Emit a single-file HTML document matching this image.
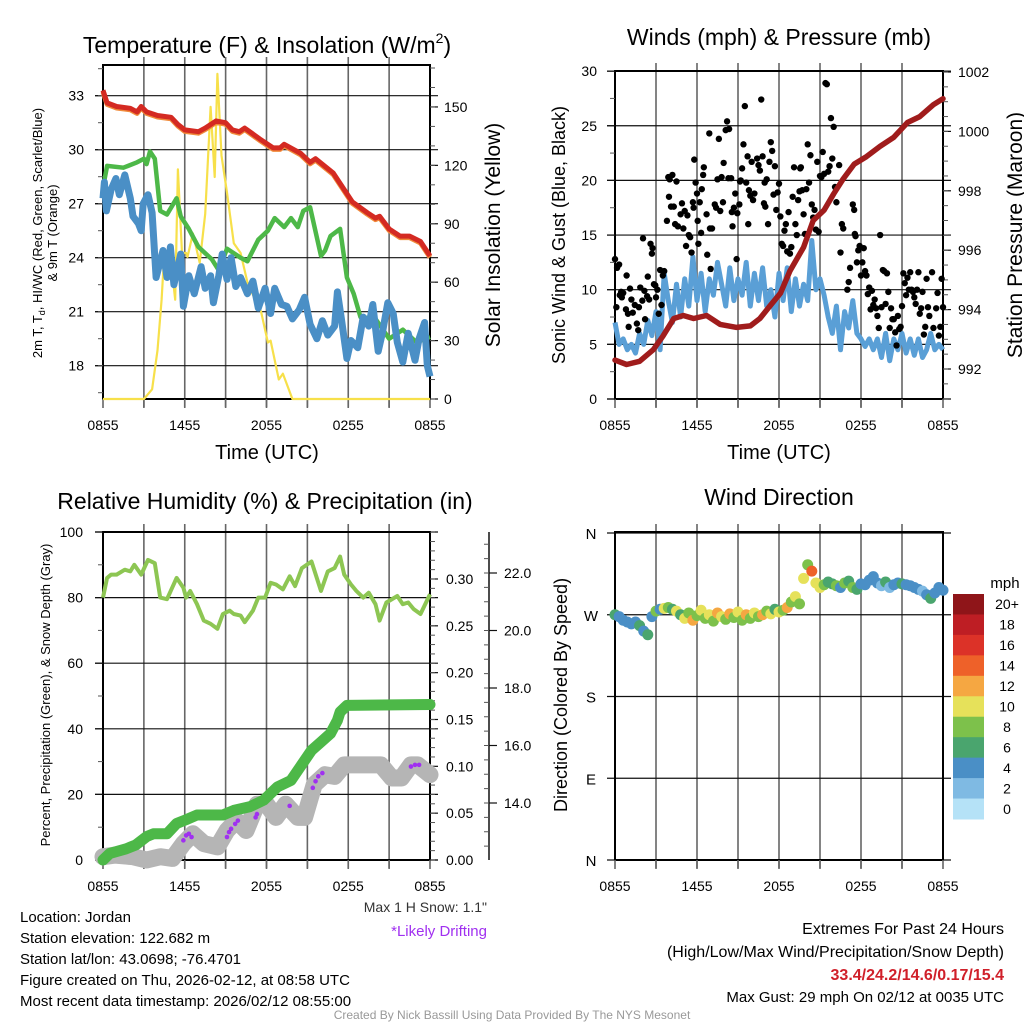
<!DOCTYPE html>
<html><head><meta charset="utf-8"><style>
html,body{margin:0;padding:0;background:#fff;}
svg{display:block;font-family:"Liberation Sans",Arial,sans-serif;}
</style></head><body>
<svg id="chart" width="1024" height="1024" viewBox="0 0 1024 1024">
<rect x="0" y="0" width="1024" height="1024" fill="#fff"/>
<text x="267" y="53" font-size="23" text-anchor="middle">Temperature (F) &amp; Insolation (W/m<tspan font-size="14" dy="-10">2</tspan><tspan dy="10">)</tspan></text>
<text x="779" y="45" font-size="23" text-anchor="middle">Winds (mph) &amp; Pressure (mb)</text>
<text x="265" y="509" font-size="23" text-anchor="middle">Relative Humidity (%) &amp; Precipitation (in)</text>
<text x="779" y="505" font-size="23" text-anchor="middle">Wind Direction</text>

<text transform="translate(42,233) rotate(-90)" font-size="13" text-anchor="middle">2m T, T<tspan font-size="9" dy="3">d</tspan><tspan dy="-3">, HI/WC (Red, Green, Scarlet/Blue)</tspan></text>
<text transform="translate(57,233) rotate(-90)" font-size="13" text-anchor="middle">&amp; 9m T (Orange)</text>
<text transform="translate(500,235) rotate(-90)" font-size="21" text-anchor="middle">Solar Insolation (Yellow)</text>
<text transform="translate(565,235) rotate(-90)" font-size="18" text-anchor="middle">Sonic Wind &amp; Gust (Blue, Black)</text>
<text transform="translate(1022,235) rotate(-90)" font-size="21" text-anchor="middle">Station Pressure (Maroon)</text>
<text transform="translate(50,695) rotate(-90)" font-size="13" text-anchor="middle">Percent, Precipitation (Green), &amp; Snow Depth (Gray)</text>
<text transform="translate(567,695) rotate(-90)" font-size="18" text-anchor="middle">Direction (Colored By Speed)</text>

<text x="267" y="459" font-size="20" text-anchor="middle">Time (UTC)</text>
<text x="779" y="459" font-size="20" text-anchor="middle">Time (UTC)</text>

<text x="20" y="922" font-size="15">Location: Jordan</text>
<text x="20" y="943" font-size="15">Station elevation: 122.682 m</text>
<text x="20" y="964" font-size="15">Station lat/lon: 43.0698; -76.4701</text>
<text x="20" y="985" font-size="15">Figure created on Thu, 2026-02-12, at 08:58 UTC</text>
<text x="20" y="1006" font-size="15">Most recent data timestamp: 2026/02/12 08:55:00</text>
<text x="487" y="912" font-size="14" text-anchor="end" fill="#333">Max 1 H Snow: 1.1"</text>
<text x="487" y="936" font-size="15" text-anchor="end" fill="#a030f0">*Likely Drifting</text>
<text x="1004" y="934" font-size="16" text-anchor="end">Extremes For Past 24 Hours</text>
<text x="1004" y="957" font-size="16" text-anchor="end">(High/Low/Max Wind/Precipitation/Snow Depth)</text>
<text x="1004" y="980" font-size="16" text-anchor="end" font-weight="bold" fill="#d0202a">33.4/24.2/14.6/0.17/15.4</text>
<text x="1004" y="1002" font-size="15" text-anchor="end">Max Gust: 29 mph On 02/12 at 0035 UTC</text>
<text x="512" y="1019" font-size="12" text-anchor="middle" fill="#999">Created By Nick Bassill Using Data Provided By The NYS Mesonet</text>
<text x="1005" y="588" font-size="15" text-anchor="middle">mph</text>
</svg>
<script>
// ---------- data ----------
const timeTickLabels = ["0855","1455","2055","0255","0855"];
const tempTicks = [18,21,24,27,30,33];
const insolTicks = [0,30,60,90,120,150];
const windTicks = [0,5,10,15,20,25,30];
const pressureTicks = [992,994,996,998,1000,1002];
const rhTicks = [0,20,40,60,80,100];
const precipTicks = [0.00,0.05,0.10,0.15,0.20,0.25,0.30];
const snowTicks = [14.0,16.0,18.0,20.0,22.0];
const dirTicks = ["N","E","S","W","N"];
const dirTickValues = [0,90,180,270,360];
const speedBinLabels = ["0","2","4","6","8","10","12","14","16","18","20+"];
const speedBinColors = ["#b5e2f7","#7fbae3","#4a8fc6","#4aa56e","#7dc14b","#e6e15a","#f5a742","#ee6129","#dc3228","#be1e24","#8f1519"];

const airTemp = [[0,33.3],[0.3,32.6],[1,32.4],[2,32.3],[2.5,32.1],[2.8,32.4],[3.2,32.1],[4,31.9],[5,31.8],[5.5,31.4],[6,31.1],[7,31.0],[7.5,31.2],[8.3,31.6],[9,31.5],[9.5,31.1],[10,31.0],[10.4,31.2],[11.5,30.6],[12.5,30.1],[13,30.1],[13.3,30.3],[14.5,29.8],[15.2,29.3],[15.6,29.5],[16.9,28.7],[17.6,27.9],[18.3,27.1],[19.4,26.5],[20,26.2],[20.3,26.3],[21,25.6],[21.8,25.2],[22.5,25.2],[23.3,24.9],[24,24.1]];
const heatIndex = [[0,27.9],[0.3,29.1],[1.5,29.0],[2.5,29.3],[3,29.5],[3.2,29.2],[3.45,29.9],[3.8,29.5],[4.2,26.6],[4.7,26.4],[5.4,27.3],[5.7,26.3],[6.3,25.6],[7.0,24.6],[8.0,23.9],[8.5,23.3],[9.1,24.5],[10.1,24.0],[10.6,23.8],[11.4,25.0],[12.1,25.5],[12.6,26.2],[13.3,25.7],[13.8,26.2],[14.3,25.7],[14.7,26.6],[15.2,26.8],[16.0,24.1],[16.3,24.4],[16.7,25.2],[17.4,25.6],[17.9,22.9],[18.4,22.0],[18.9,20.7],[20,20.6],[21,19.5],[22,20.0],[23,19.3],[24,19.6]];
const dewPoint = [[0,27.3],[0.1,28.2],[0.25,26.6],[0.6,27.8],[0.95,28.4],[1.2,27.5],[1.6,28.6],[2.0,27.3],[2.2,26.3],[2.6,25.9],[2.8,25.5],[2.95,27.0],[3.3,27.5],[3.6,26.5],[3.9,22.9],[4.4,24.4],[4.7,22.9],[4.95,24.6],[5.2,22.5],[5.7,24.2],[5.9,21.3],[6.3,23.0],[6.7,22.0],[7.2,23.5],[7.5,22.3],[7.9,23.0],[8.1,21.5],[8.5,23.0],[8.75,24.2],[9.1,22.8],[9.4,24.0],[9.75,22.4],[10.1,22.9],[10.6,22.0],[11,22.7],[11.4,21.2],[11.9,22.3],[12.3,20.9],[12.6,22.3],[13.1,21.4],[13.5,21.3],[13.9,20.6],[14.4,21.1],[14.8,21.8],[15.2,20.3],[15.7,19.5],[16.1,20.5],[16.5,19.7],[17,20.2],[17.2,22.1],[17.5,20.6],[17.9,18.4],[18.2,19.4],[18.7,19.0],[19.1,20.7],[19.5,20.2],[19.8,21.4],[20.2,18.8],[20.5,19.8],[20.9,21.5],[21.3,20.9],[21.6,19.3],[22,18.2],[22.4,19.8],[22.9,18.3],[23.2,19.5],[23.6,20.4],[23.8,18.0],[24,17.4]];
const insolation = [[0,0],[3.0,0],[3.6,5],[4.0,25],[4.3,51],[4.5,75],[4.8,65],[5.0,70],[5.3,51],[5.5,118],[5.8,75],[6.1,75],[6.2,73],[6.6,85],[7.1,70],[7.5,95],[7.9,150],[8.2,114],[8.4,167],[8.7,125],[9.1,106],[9.6,80],[10.1,75],[10.6,60],[11.1,52],[11.6,45],[12.1,29],[12.3,30],[12.9,10],[13.2,13],[13.9,0],[24,0]];

const windSpeed = [7,5,5.5,4.5,5,4.2,6,5,7.2,5.8,8,4.5,11.5,9,7,10.5,7.5,11,8.5,13,9,11.5,8,11,9.5,12.5,10.5,8.5,12,9,11,9.5,12.5,8.5,11.5,9,12,8.5,10,7.5,11.5,9,12,8,11,8.5,10.5,9,14.5,10,11,9.5,7.5,6,8.5,4.5,8,6.5,9,6,5.5,4.8,5.5,4.5,5.5,3.8,6,3.5,5.5,4.5,6,4.2,5.5,4,5.5,3.8,4.5,6,4.5,5,4.5];
const pressure = [[0,992.3],[0.85,992.15],[1.8,992.26],[2.8,992.65],[3.5,993.1],[4.3,993.7],[5.0,993.8],[5.75,993.7],[6.7,993.8],[7.7,993.5],[8.9,993.4],[9.9,993.45],[10.6,993.7],[11.3,994.1],[12.1,994.55],[12.8,995.3],[13.8,996.1],[14.5,997.0],[15.3,997.35],[16.0,997.9],[16.7,998.4],[17.5,998.9],[18.4,999.15],[19.4,999.5],[20.4,999.8],[21.4,1000.3],[22.3,1000.5],[23.3,1000.9],[24,1001.1]];
const gustPoints = [[0.0,12.8],[0.1,8.4],[0.15,12],[0.3,12.3],[0.35,9.5],[0.45,9.8],[0.5,9.3],[0.6,9.7],[0.8,8.2],[0.85,11.3],[0.95,7.8],[1.0,6.6],[1.1,10.1],[1.2,9.1],[1.3,7.9],[1.45,8.6],[1.6,6.9],[1.7,6.3],[1.75,8.4],[1.85,10.2],[2.0,9],[2.05,14.7],[2.15,9.9],[2.2,7.3],[2.35,9.4],[2.4,11.2],[2.5,9.1],[2.6,14.2],[2.7,13.3],[2.75,13.8],[2.85,10.5],[2.95,10.4],[3.0,9.3],[3.1,10.0],[3.2,7.8],[3.3,11.8],[3.4,8.6],[3.5,11.3],[3.6,11.7],
[3.8,16.3],[3.9,20.3],[3.95,18.5],[4.0,20.1],[4.1,17.6],[4.2,20.5],[4.3,17.6],[4.4,16],[4.5,19.9],[4.6,15.8],[4.8,16.9],[4.9,17.9],[5.0,15.6],[5.1,17.2],[5.2,14],[5.3,16.8],[5.4,15],[5.5,14.8],[5.6,13.4],[5.7,18],[5.75,17.5],[5.8,21.9],[5.9,19.8],[6.0,18.8],[6.05,16.3],[6.1,14.2],[6.2,18],[6.3,15.2],[6.35,19.2],[6.45,20.5],[6.5,21.2],[6.7,16.9],[6.75,13.2],[6.9,24.3],[6.95,15.6],[7.0,11.9],[7.1,15.6],
[7.3,17.8],[7.4,17.5],[7.5,20.1],[7.6,23.8],[7.7,17.2],[7.8,20.3],[7.9,18],[7.95,21.6],[8.1,24.6],[8.2,25.4],[8.3,20.2],[8.35,24.7],[8.5,20.2],[8.55,17.1],[8.6,15.8],[8.7,17.5],[8.8,18.8],[8.9,12.8],[8.95,17],[9.1,17.8],[9.15,19.9],[9.2,20],[9.3,21.1],[9.4,23.3],[9.5,26.8],[9.6,19.8],[9.7,22.2],[9.75,16],[9.8,19.1],[9.9,18.6],[10.0,21.7],[10.1,18.2],[10.2,18.8],[10.4,22],[10.5,21.4],[10.6,20.9],[10.7,27.4],[10.8,22.2],[10.9,17.9],[10.95,19.8],
[11.0,17.6],[11.1,20.1],[11.2,16],[11.3,21.7],[11.4,23.5],[11.5,22.7],[11.6,18.7],[11.7,21.3],[11.8,17.3],[11.9,18.9],[12.0,19.7],[12.1,16.7],[12.2,14.2],[12.3,14],[12.4,15.4],[12.5,16],[12.6,13.5],[12.7,17.1],[12.8,13.3],[12.9,13.9],[13.0,18.5],[13.1,21.2],[13.2,16],[13.3,15],[13.4,18.2],[13.5,19],[13.55,21.1],[13.6,21.2],[13.7,19.1],[13.8,16.9],[13.9,15.1],[14.0,19.2],[14.1,23.3],[14.2,19.8],[14.3,22.3],[14.4,17.8],[14.5,16.6],[14.6,17.3],[14.7,15.5],[14.8,21.7],[14.9,15.3],
[15.0,20.4],[15.1,20.3],[15.2,22.6],[15.3,20.6],[15.4,28.9],[15.5,28.8],[15.6,20.8],[15.7,21.3],[15.8,25.7],[15.9,22],[16.0,24.9],[16.1,19.4],[16.2,18],[16.4,21.4],[16.5,13.4],[16.6,16],[16.7,15.6],[17.0,10],[17.1,10.7],[17.2,12],[17.4,17.8],[17.5,17.3],[17.55,15.1],[17.6,14.9],[17.7,12.5],[17.8,13.6],[17.9,14],[18.0,11.3],[18.1,12.5],[18.2,13.8],[18.3,11.7],[18.4,11.3],[18.5,9.6],[18.6,10.2],[18.7,8.2],[18.8,9.9],[18.9,8.6],[19.0,9.1],[19.1,8.3],
[19.2,7.6],[19.3,6.5],[19.4,15],[19.5,8.4],[19.6,11.8],[19.7,11.7],[19.8,8.7],[19.9,11.5],[20.0,9.8],[20.1,6.5],[20.2,8.3],[20.3,7.3],[20.4,7.3],[20.5,6.1],[20.6,4.9],[20.7,7.6],[20.8,6.4],[20.9,6.6],[21.0,8.5],[21.1,11.5],[21.2,10.6],[21.3,9.5],[21.4,11.1],[21.5,10],[21.6,11.6],[21.7,10],[21.8,9.8],[21.9,9.3],[22.0,8.7],[22.1,10],[22.2,11.6],[22.3,7.8],[22.4,8.3],[22.5,9.8],[22.6,5.9],[22.7,6.6],[22.8,11],[22.9,8.4],[23.0,7.6],[23.2,11.6],[23.3,6.5],[23.5,8.3],[23.6,9.7],[23.7,5.8],[23.8,6.6],[23.9,11],[24.0,8.4]];

const relHumidity = [[0,80],[0.3,86],[0.6,87],[1.0,87],[1.6,88.5],[2.0,88],[2.3,90],[2.8,87],[3.3,91.5],[3.8,90.5],[4.2,80],[4.7,79.5],[5.4,86],[5.9,83],[6.1,80],[6.4,82],[6.9,78],[7.4,73],[7.9,72],[8.4,70.5],[8.8,75],[9.3,76],[9.6,75],[10.1,74.5],[10.4,72.5],[11.0,76],[11.4,80],[11.9,80],[12.3,84.5],[12.7,84],[13.2,82.5],[13.7,86.5],[14.1,83.5],[14.6,89],[15.3,91],[16.0,82],[16.5,88],[17.0,89],[17.4,92.5],[17.7,87],[18.2,84],[18.6,82],[19.1,80],[19.5,81.5],[20.0,78],[20.3,73],[20.8,78.5],[21.6,80.5],[22.0,78],[22.4,78.5],[22.8,76.5],[23.3,75],[24,81]];
const precipitation = [[0,0],[0.5,0.007],[1.7,0.012],[2.4,0.016],[3.2,0.025],[3.7,0.028],[4.7,0.028],[5.4,0.039],[6.1,0.043],[6.9,0.048],[8.8,0.048],[9.6,0.053],[10.8,0.057],[11.8,0.064],[12.8,0.078],[13.8,0.085],[14.5,0.1],[15.3,0.117],[16.0,0.126],[16.7,0.135],[17.2,0.149],[17.4,0.158],[17.9,0.165],[24,0.166]];
const snowDepth = [[0,1],[0.9,1.5],[2.2,1],[3.2,0],[4.2,1],[5.1,0.5],[5.9,5],[6.6,8],[7.4,5],[8.4,4],[9.1,9],[9.8,12],[10.5,9],[11.3,17],[12.0,17],[12.7,13],[13.4,17],[14.3,13],[14.8,13],[15.5,23],[16.3,26],[17.0,25.5],[17.7,29],[19.2,29],[20.4,29],[21.2,25],[21.9,25],[22.6,29],[23.1,29],[24,26]];
const driftPoints = [[5.9,6],[6.1,7.5],[6.3,8],[6.5,7],[9.1,7],[9.25,8.5],[9.4,9.5],[9.7,11],[9.9,12],[11.2,13],[11.3,14],[13.7,16.5],[15.4,22],[15.6,24],[15.8,25.5],[16.1,26.5],[22.6,28.5],[22.9,29],[23.2,29]];

const windDirection = [270,268,264,262,260,262,258,252,248,268,274,276,277,278,276,274,270,266,272,264,269,275,266,270,263,272,268,265,271,267,273,264,270,266,272,268,270,274,271,276,273,275,278,284,290,282,310,325,318,305,300,303,306,304,302,300,305,307,300,298,304,303,308,312,305,302,306,300,303,305,304,303,302,300,298,296,292,288,294,300,297];

// ---------- axes ----------
const X0=103, X1=430, X2=615, X3=943;
const p1x = h => X0 + h*(X1-X0)/24;
const p1yT = t => 95.7 + (33-t)*18;
const p1yS = s => 399 - s*1.947;
const p2x = h => X2 + h*(X3-X2)/24;
const p2yW = v => 399 - v*10.93;
const p2yP = p => 369 - (p-992)*29.7;
const p3yR = v => 860 - v*3.28;
const p3yP = p => 860 - p*936.7;
const p3yS = s => 803 - (s-14)*28.75;
const p4yD = d => 860 - d*0.9083;

const svg = document.getElementById('chart');
const NS='http://www.w3.org/2000/svg';
function mk(tag, attrs, parent){ const e=document.createElementNS(NS,tag); for(const k in attrs) e.setAttribute(k,attrs[k]); (parent||svg).appendChild(e); return e; }
function linePath(pts, fx, fy){ return pts.map((p,i)=>(i?'L':'M')+fx(p[0]).toFixed(1)+','+fy(p[1]).toFixed(1)).join(''); }
function speedColor(v){ let i=Math.floor(v/2); if(i<0)i=0; if(i>10)i=10; return speedBinColors[i]; }

function frame(name, xa, xb, ya, yb, hLinesY){
  const g = mk('g',{});
  
  
  for(let k=1;k<8;k++){ const x=xa+k*(xb-xa)/8;
    const l=mk('line',{x1:x,y1:ya-8,x2:x,y2:yb+8,stroke:'#666','stroke-width':1.6},g);
    
     }
  hLinesY.forEach(y=>{ const l=mk('line',{x1:xa-8,y1:y,x2:xb+8,y2:y,stroke:'#111','stroke-width':1.2},g);
    
     });
  const b=mk('rect',{x:xa,y:ya,width:xb-xa,height:yb-ya,fill:'none',stroke:'#000','stroke-width':2},g);
  
  
  for(let k=0;k<=8;k++){ const x=xa+k*(xb-xa)/8;
    const t=mk('line',{x1:x,y1:yb,x2:x,y2:yb+9,stroke:'#666','stroke-width':1.6},g);
    
     }
  timeTickLabels.forEach((s,i)=>{ const t=mk('text',{x:xa+i*(xb-xa)/4,y:yb+31,'font-size':14,'text-anchor':'middle'},g); t.textContent=s;
    
     });
}
function yLabels(vals, fy, x, anchor, fmt, name, tickX, tickDir){
  vals.forEach(v=>{ const y=fy(v);
    const t=mk('text',{x:x,y:y+5,'font-size':14,'text-anchor':anchor}); t.textContent=fmt(v);
    
    
    const l=mk('line',{x1:tickX,y1:y,x2:tickX+tickDir*8,y2:y,stroke:'#111','stroke-width':1.2});
    
     });
}
function minor(from,to,step,fy,x,dir,ymin,ymax){
  for(let v=from; v<=to+1e-9; v+=step){ const y=fy(v); if(y<ymin||y>ymax) continue;
    const l=mk('line',{x1:x,y1:y,x2:x+dir*5,y2:y,stroke:'#555','stroke-width':1});
    
     }
}

// Panel 1
frame('temperature', X0, X1, 65, 399, tempTicks.map(p1yT));
yLabels(tempTicks, p1yT, 84, 'end', v=>String(v), 'temperature-y', X0, -1);
yLabels(insolTicks, p1yS, 444, 'start', v=>String(v), 'insolation-y', X1, 1);
minor(16.5,34.5,1.5,p1yT,X0,-1,65,399);
minor(0,170,10,p1yS,X1,1,65,399);
let e;
e = mk('path',{d:linePath(insolation,p1x,p1yS),fill:'none',stroke:'#f7e04a','stroke-width':2.2,'stroke-linejoin':'round'});


e = mk('path',{d:linePath(heatIndex,p1x,p1yT),fill:'none',stroke:'#4db848','stroke-width':4.5,'stroke-linejoin':'round'});


e = mk('path',{d:linePath(dewPoint,p1x,p1yT),fill:'none',stroke:'#4a8fc6','stroke-width':7,'stroke-linejoin':'round'});


e = mk('path',{d:linePath(airTemp,p1x,p1yT),fill:'none',stroke:'#f08a3a','stroke-width':5,'stroke-linejoin':'round',transform:'translate(0,1.5)'});


e = mk('path',{d:linePath(airTemp,p1x,p1yT),fill:'none',stroke:'#d42a22','stroke-width':5,'stroke-linejoin':'round'});



// Panel 2
frame('winds', X2, X3, 71, 399, windTicks.map(p2yW));
yLabels(windTicks, p2yW, 597, 'end', v=>String(v), 'wind-y', X2, -1);
yLabels(pressureTicks, p2yP, 958, 'start', v=>String(v), 'pressure-y', X3, 1);
minor(2.5,27.5,5,p2yW,X2,-1,71,399);
minor(991,1002,0.5,p2yP,X3,1,71,399);
const windPts = windSpeed.map((v,i)=>[i*24/(windSpeed.length-1), v]);
e = mk('path',{d:linePath(windPts,p2x,p2yW),fill:'none',stroke:'#5a9fd6','stroke-width':5,'stroke-linejoin':'round'});


const gustG = mk('g',{});


gustPoints.forEach(p=>{ const c=mk('circle',{cx:p2x(p[0]),cy:p2yW(p[1]),r:3.2,fill:'#000'},gustG);
  
   });
e = mk('path',{d:linePath(pressure,p2x,p2yP),fill:'none',stroke:'#a01c1c','stroke-width':5.5,'stroke-linejoin':'round','stroke-linecap':'round'});



// Panel 3
frame('humidity', X0, X1, 532, 860, rhTicks.map(p3yR));
yLabels(rhTicks, p3yR, 83, 'end', v=>String(v), 'rh-y', X0, -1);
yLabels(precipTicks, p3yP, 446, 'start', v=>v.toFixed(2), 'precip-y', X1, 1);
minor(10,90,20,p3yR,X0,-1,532,860);
minor(0,0.35,0.01,p3yP,X1,1,532,860);
e = mk('line',{x1:489,y1:532,x2:489,y2:860,stroke:'#111','stroke-width':1.5});


yLabels(snowTicks, p3yS, 504, 'start', v=>v.toFixed(1), 'snow-y', 489, 1);
minor(12.5,23,0.5,p3yS,489,-1,532,860);
e = mk('path',{d:linePath(snowDepth,p1x,p3yR),fill:'none',stroke:'#b5b5b5','stroke-width':17,'stroke-linejoin':'round','stroke-linecap':'round'});


e = mk('path',{d:linePath(precipitation,p1x,p3yP),fill:'none',stroke:'#4db848','stroke-width':11,'stroke-linejoin':'round','stroke-linecap':'round'});


e = mk('path',{d:linePath(relHumidity,p1x,p3yR),fill:'none',stroke:'#8dc653','stroke-width':4,'stroke-linejoin':'round'});


const driftG = mk('g',{});


driftPoints.forEach(p=>{ const c=mk('circle',{cx:p1x(p[0]),cy:p3yR(p[1]),r:2.3,fill:'#a030f0'},driftG);
  
   });

// Panel 4
frame('direction', X2, X3, 532, 860, dirTickValues.map(p4yD));
dirTickValues.forEach((d,i)=>{ const t=mk('text',{x:591,y:p4yD(d)+6,'font-size':15,'text-anchor':'middle'}); t.textContent=dirTicks[i];
  
   });
const dirG = mk('g',{});


windDirection.forEach((d,i)=>{ const h=i*24/(windDirection.length-1); const v=windSpeed[Math.min(i,windSpeed.length-1)];
  const c=mk('circle',{cx:p2x(h),cy:p4yD(d),r:5.5,fill:speedColor(v)},dirG);
  
   });

// Colorbar
const cbG = mk('g',{});


const cbTop=594, cbH=225/11;
speedBinColors.slice().reverse().forEach((c,i)=>{ const r=mk('rect',{x:953,y:cbTop+i*cbH,width:31,height:cbH+0.5,fill:c},cbG);
  
   });
speedBinLabels.slice().reverse().forEach((s,i)=>{ const t=mk('text',{x:1007,y:cbTop+i*cbH+cbH/2+5,'font-size':14,'text-anchor':'middle'},cbG); t.textContent=s;
  
   });
</script>
</body></html>
